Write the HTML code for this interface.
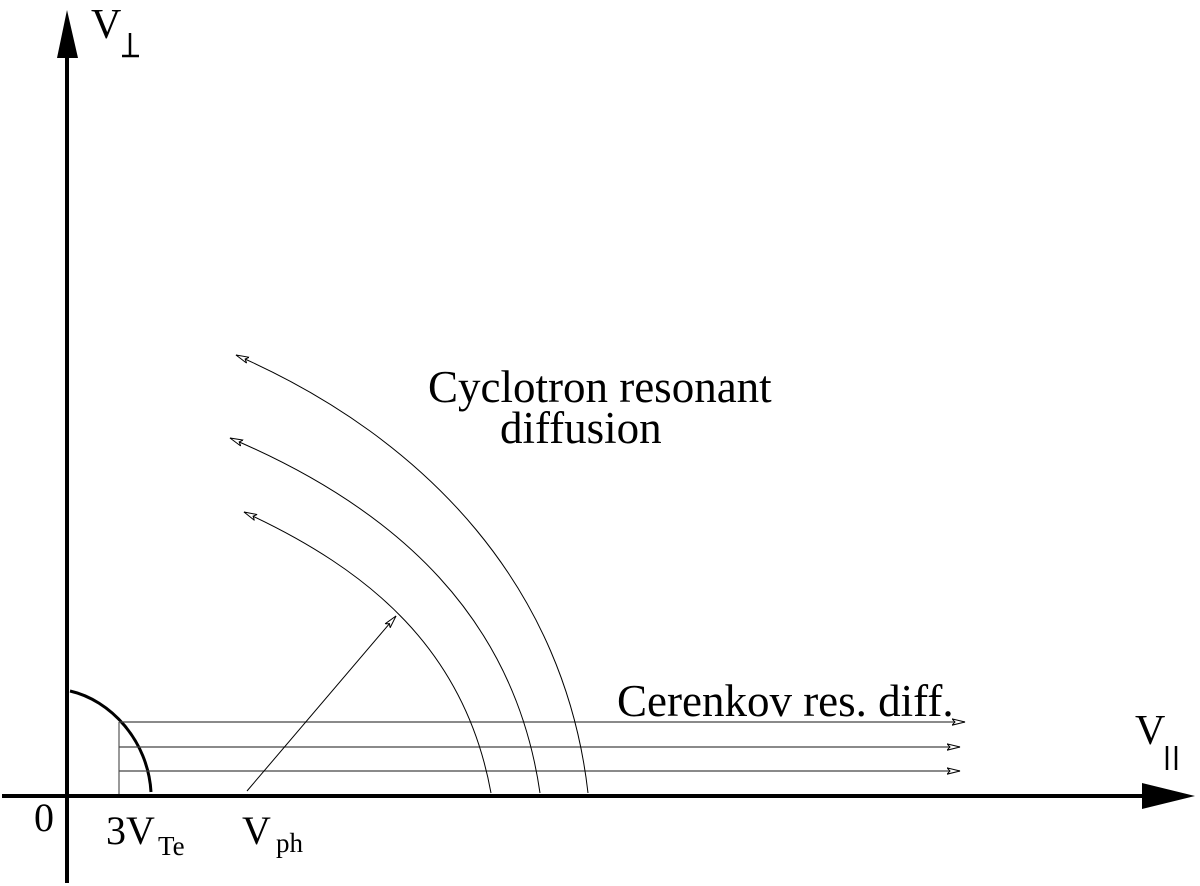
<!DOCTYPE html>
<html><head><meta charset="utf-8"><style>
html,body{margin:0;padding:0;background:#fff}
svg{display:block}
text{font-family:"Liberation Serif",serif;fill:#000}
</style></head><body>
<svg width="1200" height="886" viewBox="0 0 1200 886" xmlns="http://www.w3.org/2000/svg">
<defs>
<marker id="ha" markerWidth="14" markerHeight="8" refX="13" refY="4" orient="auto" markerUnits="userSpaceOnUse">
<path d="M0,0.8 L13,4 L0,7.2 L3,4 Z" fill="#fff" stroke="#000" stroke-width="1"/>
</marker>
</defs>
<!-- axes -->
<line x1="67" y1="50" x2="67" y2="883" stroke="#000" stroke-width="4"/>
<polygon points="67,10 57,58 78,58" fill="#000"/>
<line x1="2" y1="796" x2="1150" y2="796" stroke="#000" stroke-width="4"/>
<polygon points="1195,796 1142,783 1142,809" fill="#000"/>
<!-- small arc -->
<path d="M70,691 C110,700 148,740 151,792" fill="none" stroke="#000" stroke-width="3"/>
<line x1="119" y1="722" x2="119" y2="794" stroke="#555" stroke-width="1.2"/>
<!-- horizontal arrows -->
<line x1="119" y1="722" x2="965" y2="722" stroke="#444" stroke-width="1.2" marker-end="url(#ha)"/>
<line x1="119" y1="747" x2="960" y2="747" stroke="#444" stroke-width="1.2" marker-end="url(#ha)"/>
<line x1="119" y1="771" x2="960" y2="771" stroke="#444" stroke-width="1.2" marker-end="url(#ha)"/>
<!-- arcs -->
<path d="M491,793 C465,650 370,570 244,512" fill="none" stroke="#000" stroke-width="1" marker-end="url(#ha)"/>
<path d="M540,793 C515,620 400,510 230,438" fill="none" stroke="#000" stroke-width="1" marker-end="url(#ha)"/>
<path d="M588,793 C565,590 430,440 236,355" fill="none" stroke="#000" stroke-width="1" marker-end="url(#ha)"/>
<!-- Vph arrow -->
<line x1="247" y1="791" x2="396" y2="616" stroke="#000" stroke-width="1" marker-end="url(#ha)"/>
<!-- labels -->
<text x="91" y="38" font-size="42">V</text>
<line x1="130" y1="33" x2="130" y2="56" stroke="#000" stroke-width="2.5"/>
<line x1="122" y1="56" x2="139" y2="56" stroke="#000" stroke-width="2.5"/>
<text x="1135" y="744" font-size="42">V</text>
<line x1="1167" y1="746" x2="1167" y2="770" stroke="#000" stroke-width="2.5"/>
<line x1="1176" y1="746" x2="1176" y2="770" stroke="#000" stroke-width="2.5"/>
<text x="34" y="831" font-size="40">0</text>
<text x="106" y="844" font-size="40">3V</text>
<text x="158" y="855" font-size="27">Te</text>
<text x="242" y="844" font-size="40">V</text>
<text x="276" y="852" font-size="27">ph</text>
<text x="428" y="402" font-size="45">Cyclotron resonant</text>
<text x="500" y="443" font-size="45">diffusion</text>
<text x="617" y="716" font-size="45">Cerenkov res. diff.</text>
</svg>
</body></html>
